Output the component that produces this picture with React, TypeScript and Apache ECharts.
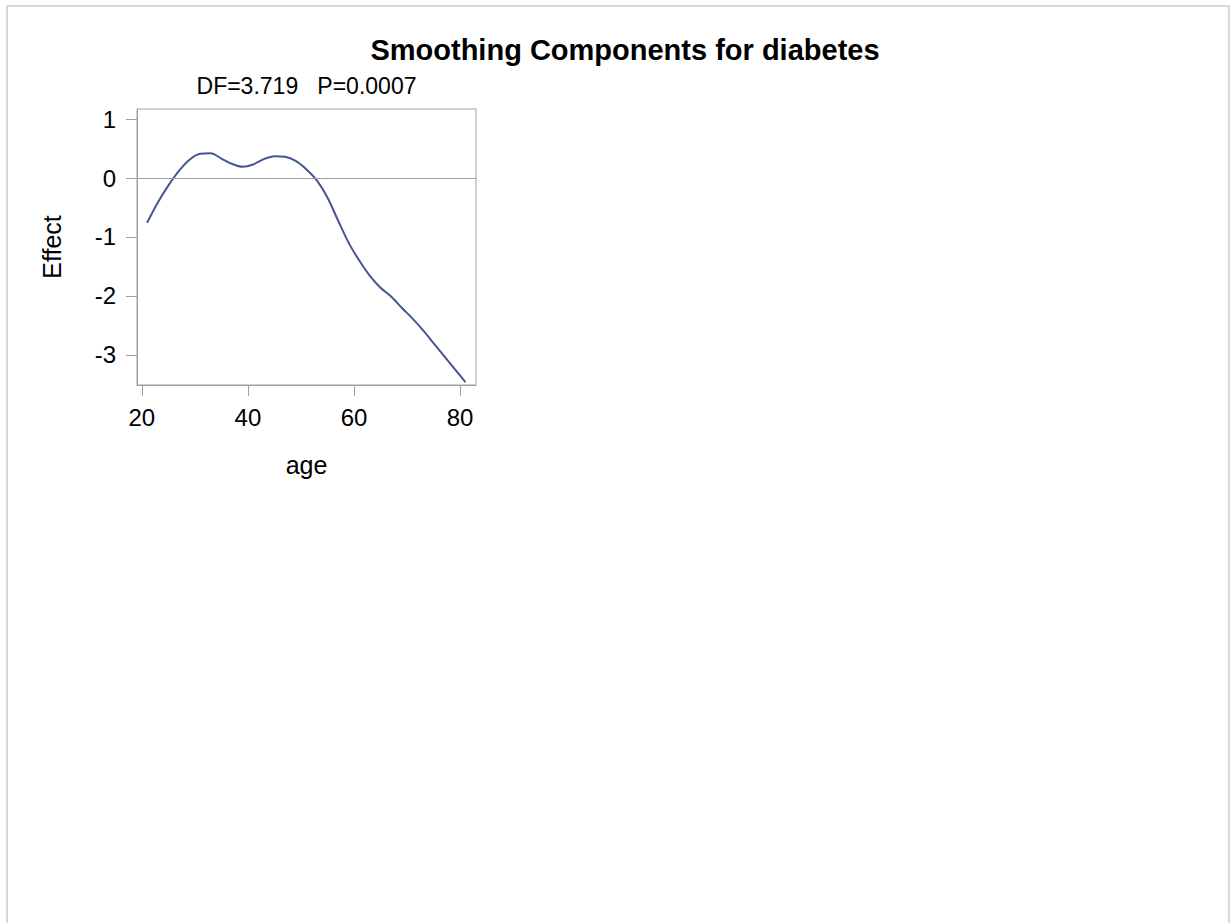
import React, { useEffect, useRef } from "react";
import * as echarts from "echarts";

const titleText = "Smoothing Components for diabetes";
const statText = "DF=3.719   P=0.0007";
const xName = "age";
const yName = "Effect";
const xTicks = [20, 40, 60, 80];
const yTicks = [-3, -2, -1, 0, 1];
const ages = [21, 23, 25, 27, 29, 31, 33, 35, 37, 39, 41, 43, 45, 47, 49, 51, 53, 55, 57, 59, 61, 63, 65, 67, 69, 71, 73, 75, 77, 79, 81];
const effects = [-0.76, -0.42, -0.13, 0.12, 0.31, 0.41, 0.42, 0.33, 0.24, 0.19, 0.23, 0.32, 0.37, 0.36, 0.29, 0.15, -0.04, -0.33, -0.72, -1.1, -1.4, -1.66, -1.86, -2.01, -2.2, -2.38, -2.58, -2.8, -3.02, -3.24, -3.46];

const FONT = "'Liberation Sans', Arial, Helvetica, sans-serif";
const FRAME = "#a0a0a0";

export default function App() {
  const ref = useRef<HTMLDivElement>(null);
  useEffect(() => {
    if (!ref.current) return;
    const chart = echarts.init(ref.current, null, { renderer: "svg" });
    const data = ages.map((a, i) => [a, effects[i]]);
    chart.setOption({
      animation: false,
      backgroundColor: "#ffffff",
      title: {
        text: titleText,
        left: 620,
        textAlign: "center",
        top: 30,
        textStyle: { fontFamily: FONT, fontSize: 29, fontWeight: "bold", color: "#000" },
      },
      graphic: [
        {
          type: "polyline",
          shape: { points: [[7, 923], [7, 6], [1229, 6], [1229, 923]] },
          style: { stroke: "#d8d8d8", lineWidth: 2, fill: "none" },
          silent: true,
        },
        {
          type: "text",
          x: 306.5,
          y: 86,
          style: {
            text: statText,
            fontFamily: FONT,
            fontSize: 23,
            fill: "#000",
            align: "center",
            verticalAlign: "middle",
          },
        },
      ],
      grid: {
        left: 137,
        top: 109,
        width: 339,
        height: 276,
        show: true,
        borderColor: FRAME,
        borderWidth: 1,
        backgroundColor: "transparent",
      },
      xAxis: {
        type: "value",
        min: 19.1,
        max: 83,
        name: xName,
        nameLocation: "middle",
        nameGap: 67,
        nameTextStyle: { fontFamily: FONT, fontSize: 25, color: "#000" },
        axisLine: { show: true, onZero: false, lineStyle: { color: FRAME } },
        axisTick: { show: true, length: 11, customValues: xTicks, lineStyle: { color: FRAME } },
        axisLabel: { customValues: xTicks, margin: 20, fontFamily: FONT, fontSize: 24, color: "#000" },
        splitLine: { show: false },
      },
      yAxis: {
        type: "value",
        min: -3.51,
        max: 1.17,
        name: yName,
        nameLocation: "middle",
        nameGap: 73,
        nameRotate: 90,
        nameTextStyle: { fontFamily: FONT, fontSize: 25, color: "#000" },
        axisLine: { show: true, onZero: false, lineStyle: { color: FRAME } },
        axisTick: { show: true, length: 11, customValues: yTicks, lineStyle: { color: FRAME } },
        axisLabel: { customValues: yTicks, margin: 21, fontFamily: FONT, fontSize: 24, color: "#000" },
        splitLine: { show: false },
      },
      series: [
        {
          type: "line",
          data,
          smooth: 0.3,
          showSymbol: false,
          symbol: "none",
          lineStyle: { color: "#445694", width: 2 },
          markLine: {
            silent: true,
            symbol: "none",
            label: { show: false },
            lineStyle: { color: FRAME, width: 1, type: "solid" },
            data: [{ yAxis: 0 }],
          },
        },
      ],
    });
    return () => chart.dispose();
  }, []);
  return <div ref={ref} style={{ position: "fixed", left: 0, top: 0, width: 1231, height: 923 }} />;
}
